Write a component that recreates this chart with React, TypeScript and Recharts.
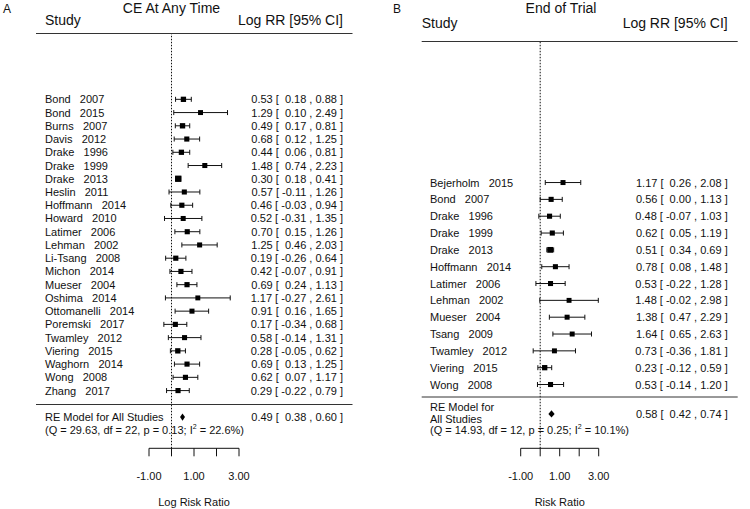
import { ScatterChart, Scatter, XAxis, YAxis, ErrorBar, ReferenceLine } from "recharts"

const FONT = '"Liberation Sans", Arial, Helvetica, sans-serif'
const H = 509
const X_MIN = -1
const X_MAX = 3
const xTicks = [-1, 0, 1, 2, 3]
const xTickLabels = ["-1.00", "", "1.00", "", "3.00"]

// Panel A: CE at any time
const namesA = [
  "Bond", "Bond", "Burns", "Davis", "Drake", "Drake", "Drake", "Heslin", "Hoffmann", "Howard",
  "Latimer", "Lehman", "Li-Tsang", "Michon", "Mueser", "Oshima", "Ottomanelli", "Poremski",
  "Twamley", "Viering", "Waghorn", "Wong", "Zhang",
]
const yearsA = [
  2007, 2015, 2007, 2012, 1996, 1999, 2013, 2011, 2014, 2010, 2006, 2002, 2008, 2014, 2004, 2014,
  2014, 2017, 2012, 2015, 2014, 2008, 2017,
]
const estA = [0.53, 1.29, 0.49, 0.68, 0.44, 1.48, 0.3, 0.57, 0.46, 0.52, 0.7, 1.25, 0.19, 0.42, 0.69, 1.17, 0.91, 0.17, 0.58, 0.28, 0.69, 0.62, 0.29]
const lowA = [0.18, 0.1, 0.17, 0.12, 0.06, 0.74, 0.18, -0.11, -0.03, -0.31, 0.15, 0.46, -0.26, -0.07, 0.24, -0.27, 0.16, -0.34, -0.14, -0.05, 0.13, 0.07, -0.22]
const highA = [0.88, 2.49, 0.81, 1.25, 0.81, 2.23, 0.41, 1.26, 0.94, 1.35, 1.26, 2.03, 0.64, 0.91, 1.13, 2.61, 1.65, 0.68, 1.31, 0.62, 1.25, 1.17, 0.79]
const reA = [0.49, 0.38, 0.6]

// Panel B: end of trial
const namesB = [
  "Bejerholm", "Bond", "Drake", "Drake", "Drake", "Hoffmann", "Latimer", "Lehman", "Mueser",
  "Tsang", "Twamley", "Viering", "Wong",
]
const yearsB = [2015, 2007, 1996, 1999, 2013, 2014, 2006, 2002, 2004, 2009, 2012, 2015, 2008]
const estB = [1.17, 0.56, 0.48, 0.62, 0.51, 0.78, 0.53, 1.48, 1.38, 1.64, 0.73, 0.23, 0.53]
const lowB = [0.26, 0.0, -0.07, 0.05, 0.34, 0.08, -0.22, -0.02, 0.47, 0.65, -0.36, -0.12, -0.14]
const highB = [2.08, 1.13, 1.03, 1.19, 0.69, 1.48, 1.28, 2.98, 2.29, 2.63, 1.81, 0.59, 1.2]
const reB = [0.58, 0.42, 0.74]

const fmt = (v: number) => v.toFixed(2)
const ciText = (e: number, lo: number, hi: number) =>
  `${fmt(e)} [ ${lo < 0 ? "" : " "}${fmt(lo)} , ${fmt(hi)} ]`

type PanelProps = {
  left: number
  width: number
  margin: { top: number; right: number; bottom: number; left: number }
  yDomain: [number, number]
  names: string[]
  years: number[]
  est: number[]
  low: number[]
  high: number[]
  re: number[]
  reRow: number
  reLines: { text: any; dy: number }[]
  nameX: number
  valueX: number
  studyX: number
  letter: { text: string; x: number }
  title: { text: string; x: number }
  headY: number
  lineY: number
  sepY: number
  lineX: [number, number]
  xLabel: string
}

function Panel(p: PanelProps) {
  const rows = p.names.map((n, i) => ({
    x: p.est[i],
    y: i,
    err: [p.est[i] - p.low[i], p.high[i] - p.est[i]],
    size: Math.min(6.8, 4.8 + 0.35 / (p.high[i] - p.low[i])),
  }))
  const reData = [{ x: p.re[0], y: p.reRow, lo: p.re[1], hi: p.re[2] }]
  const ticks = [...rows.map((r) => r.y), p.reRow]
  const plotLeft = p.margin.left + 1
  const plotW = p.width - plotLeft - p.margin.right
  const pxPerUnit = plotW / (X_MAX - X_MIN)

  const renderTick = (props: any) => {
    const { y, payload } = props
    const i = payload.value
    if (i === p.reRow) {
      return (
        <g fontFamily={FONT} fontSize={11} fill="#111">
          {p.reLines.map((l, k) => (
            <text key={k} x={p.nameX} y={y + l.dy} dominantBaseline="central" style={{ whiteSpace: "pre" }}>
              {l.text}
            </text>
          ))}
          <text x={p.valueX} y={y} textAnchor="end" dominantBaseline="central" style={{ whiteSpace: "pre" }}>
            {ciText(p.re[0], p.re[1], p.re[2])}
          </text>
        </g>
      )
    }
    return (
      <g fontFamily={FONT} fontSize={11} fill="#111">
        <text x={p.nameX} y={y} dominantBaseline="central" style={{ whiteSpace: "pre" }}>
          {`${p.names[i]}   ${p.years[i]}`}
        </text>
        <text x={p.valueX} y={y} textAnchor="end" dominantBaseline="central" style={{ whiteSpace: "pre" }}>
          {ciText(p.est[i], p.low[i], p.high[i])}
        </text>
      </g>
    )
  }

  const square = (props: any) => {
    const { cx, cy, payload } = props
    const s = payload.size
    return <rect x={cx - s / 2} y={cy - s / 2} width={s} height={s} fill="#000" />
  }

  const diamond = (props: any) => {
    const { cx, cy, payload } = props
    const w = ((payload.hi - payload.lo) / 2) * pxPerUnit
    const h = 3.6
    return <polygon points={`${cx - w},${cy} ${cx},${cy - h} ${cx + w},${cy} ${cx},${cy + h}`} fill="#000" />
  }

  return (
    <div style={{ position: "absolute", left: p.left, top: 0, width: p.width, height: H }}>
      <ScatterChart width={p.width} height={H} margin={p.margin}>
        <XAxis
          type="number"
          dataKey="x"
          domain={[X_MIN, X_MAX]}
          ticks={xTicks}
          tickFormatter={(v: number) => xTickLabels[xTicks.indexOf(v)] ?? ""}
          interval={0}
          height={40}
          tickSize={8}
          tickMargin={16}
          axisLine={{ stroke: "#111" }}
          tickLine={{ stroke: "#111" }}
          tick={{ fill: "#111", fontSize: 11, fontFamily: FONT }}
        />
        <YAxis
          type="number"
          dataKey="y"
          domain={p.yDomain}
          allowDataOverflow
          reversed
          ticks={ticks}
          interval={0}
          width={1}
          axisLine={false}
          tickLine={false}
          tick={renderTick}
        />
        <ReferenceLine x={0} stroke="#111" strokeDasharray="1.5 1.5" />
        <Scatter data={rows} shape={square} isAnimationActive={false}>
          <ErrorBar dataKey="err" direction="x" width={2.5} stroke="#111" strokeWidth={1} />
        </Scatter>
        <Scatter data={reData} shape={diamond} isAnimationActive={false} />
      </ScatterChart>
      <svg
        width={p.width}
        height={H}
        style={{ position: "absolute", left: 0, top: 0, pointerEvents: "none" }}
        fontFamily={FONT}
        fill="#111"
      >
        <text x={p.letter.x} y={12.5} fontSize={12}>{p.letter.text}</text>
        <text x={p.title.x} y={12.7} fontSize={14} textAnchor="middle">{p.title.text}</text>
        <text x={p.studyX} y={p.headY} fontSize={14}>Study</text>
        <text x={p.valueX} y={p.headY} fontSize={14} textAnchor="end">Log RR [95% CI]</text>
        <line x1={p.lineX[0]} x2={p.lineX[1]} y1={p.lineY} y2={p.lineY} stroke="#333" strokeWidth={1} />
        <line x1={p.lineX[0]} x2={p.lineX[1]} y1={p.sepY} y2={p.sepY} stroke="#333" strokeWidth={1} />
        <text x={plotLeft + plotW / 2} y={506.3} fontSize={11} textAnchor="middle">
          {p.xLabel}
        </text>
      </svg>
    </div>
  )
}

const I2 = (val: string, pre: string) => (
  <>
    {pre}
    <tspan dy={-4} fontSize={7}>2</tspan>
    <tspan dy={4}>{` = ${val})`}</tspan>
  </>
)

export default function App() {
  return (
    <div style={{ position: "absolute", left: 0, top: 0, width: 750, height: H, background: "#fff" }}>
      <Panel
        left={0}
        width={375}
        margin={{ top: 33, right: 136, bottom: 20.7, left: 148 }}
        yDomain={[-5.01, 26.36]}
        names={namesA}
        years={yearsA}
        est={estA}
        low={lowA}
        high={highA}
        re={reA}
        reRow={24}
        reLines={[
          { text: "RE Model for All Studies", dy: 0 },
          { text: I2("22.6%", "(Q = 29.63, df = 22, p = 0.13; I"), dy: 13.3 },
        ]}
        nameX={45}
        valueX={343}
        studyX={45}
        letter={{ text: "A", x: 3 }}
        title={{ text: "CE At Any Time", x: 171.5 }}
        headY={25}
        lineY={33.5}
        sepY={404.5}
        lineX={[36, 352.5]}
        xLabel="Log Risk Ratio"
      />
      <Panel
        left={375}
        width={375}
        margin={{ top: 41, right: 151.3, bottom: 20.7, left: 144.7 }}
        yDomain={[-8.41, 15.79]}
        names={namesB}
        years={yearsB}
        est={estB}
        low={lowB}
        high={highB}
        re={reB}
        reRow={13.75}
        reLines={[
          { text: "RE Model for", dy: -7.3 },
          { text: "All Studies", dy: 5.3 },
          { text: I2("10.1%", "(Q = 14.93, df = 12, p = 0.25; I"), dy: 16 },
        ]}
        nameX={55}
        valueX={352.7}
        studyX={46.7}
        letter={{ text: "B", x: 18 }}
        title={{ text: "End of Trial", x: 186 }}
        headY={28.3}
        lineY={41.5}
        sepY={397}
        lineX={[46.7, 362.7]}
        xLabel="Risk Ratio"
      />
    </div>
  )
}
